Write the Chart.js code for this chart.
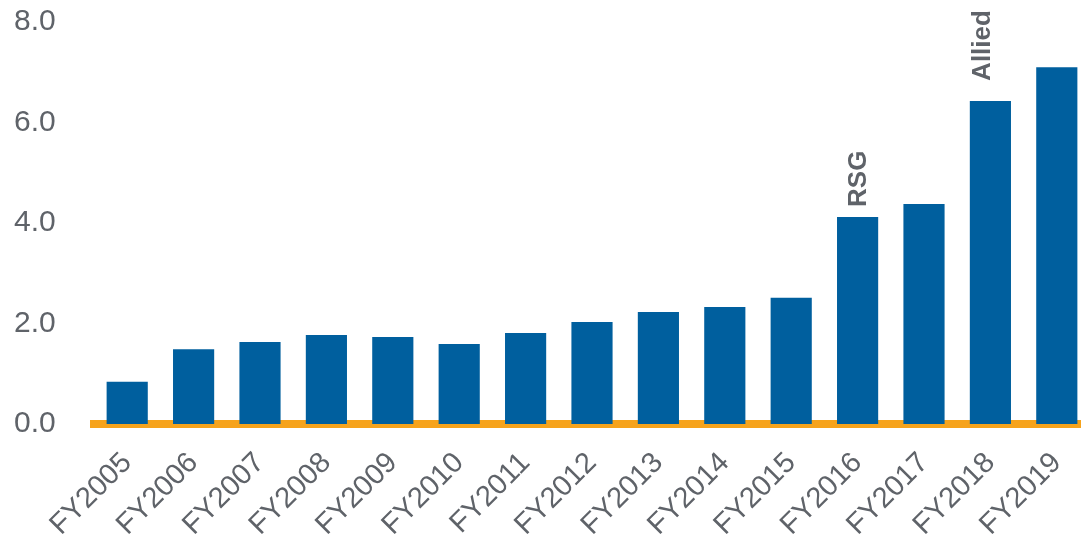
<!DOCTYPE html>
<html>
<head>
<meta charset="utf-8">
<script src="https://cdn.jsdelivr.net/npm/chart.js@4/dist/chart.umd.min.js"></script>
<style>
  html, body { margin: 0; padding: 0; background: #fff; overflow: hidden; }
  #wrap { width: 1090px; height: 535px; }
</style>
</head>
<body>
<div id="wrap"><canvas id="myChart"></canvas></div>
<script>
// Data
var years = ['FY2005', 'FY2006', 'FY2007', 'FY2008', 'FY2009', 'FY2010', 'FY2011', 'FY2012',
             'FY2013', 'FY2014', 'FY2015', 'FY2016', 'FY2017', 'FY2018', 'FY2019'];
var values = [0.84, 1.49, 1.63, 1.77, 1.73, 1.59, 1.81, 2.03, 2.23, 2.33, 2.51, 4.12, 4.38, 6.43, 7.10];
var notes = ['', '', '', '', '', '', '', '', '', '', '', 'RSG', '', 'Allied', ''];

var grey = '#5f6369';
var blue = '#005f9e';
var orange = '#f6a31c';
var fontFamily = '"Liberation Sans", Arial, sans-serif';

// Vertical notes above some bars
var notePlugin = {
    id: 'notes',
    afterDatasetsDraw: function(chart) {
        var ctx = chart.ctx;
        var meta = chart.getDatasetMeta(0);
        ctx.save();
        ctx.fillStyle = grey;
        ctx.font = 'bold 26px ' + fontFamily;
        ctx.textAlign = 'left';
        ctx.textBaseline = 'middle';
        notes.forEach(function(txt, i) {
            if (!txt) return;
            var bar = meta.data[i];
            // the "Allied" note sits higher and a bit left of its bar
            var gap = txt === 'Allied' ? 20 : 10;
            var dx = txt === 'Allied' ? -8 : 1;
            ctx.save();
            ctx.translate(bar.x + dx, bar.y - gap);
            ctx.rotate(-Math.PI / 2);
            ctx.fillText(txt, 0, 0);
            ctx.restore();
        });
        ctx.restore();
    }
};

var myChart = new Chart(document.getElementById('myChart'), {
    type: 'bar',
    data: {
        labels: years,
        datasets: [{
            data: values,
            backgroundColor: blue,
            categoryPercentage: 1,
            barPercentage: 0.62
        }]
    },
    options: {
        responsive: true,
        maintainAspectRatio: false,
        animation: false,
        layout: { padding: { left: 14, top: 22, right: 0, bottom: 0 } },
        plugins: {
            legend: { display: false },
            tooltip: { enabled: false }
        },
        scales: {
            x: {
                z: 1,
                grid: { display: false, drawTicks: false },
                border: { display: true, color: orange, width: 8 },
                ticks: {
                    color: grey,
                    font: { family: fontFamily, size: 29 },
                    maxRotation: 45,
                    minRotation: 45,
                    padding: 22,
                    autoSkip: false
                },
                afterFit: function(scale) {
                    scale.paddingLeft = 0;
                    scale.paddingRight = 0;
                    scale.height = 111;
                }
            },
            y: {
                min: 0,
                max: 8,
                grid: { display: false, drawTicks: false },
                border: { display: false },
                ticks: {
                    stepSize: 2,
                    color: grey,
                    crossAlign: 'far',
                    font: { family: fontFamily, size: 30 },
                    callback: function(v) { return v.toFixed(1); }
                },
                afterFit: function(scale) {
                    scale.paddingTop = 0;
                    scale.paddingBottom = 0;
                    scale.width = 80;
                }
            }
        }
    },
    plugins: [notePlugin]
});
</script>
</body>
</html>
